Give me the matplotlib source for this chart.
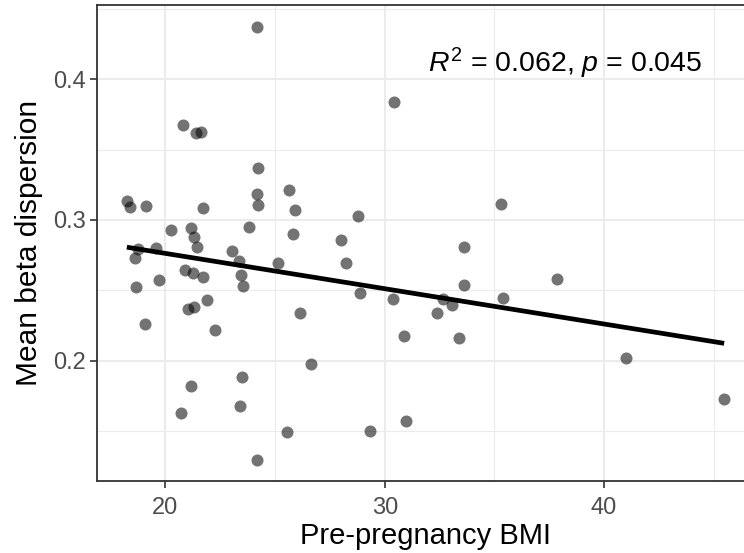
import numpy as np
import matplotlib
matplotlib.use("Agg")
import matplotlib.pyplot as plt
from matplotlib.ticker import FixedLocator

plt.rcParams['font.family'] = ['Liberation Sans', 'DejaVu Sans']
plt.rcParams['mathtext.fontset'] = 'custom'
plt.rcParams['mathtext.rm'] = 'Liberation Sans'
plt.rcParams['mathtext.it'] = 'Liberation Sans:italic'

# pre-pregnancy BMI vs mean beta dispersion
bmi = [24.17, 30.44, 20.82, 21.40, 21.63, 24.21, 18.24, 18.39, 19.09, 21.72,
       24.19, 24.21, 25.65, 25.91, 28.77, 35.29, 20.26, 21.15, 21.32, 23.81,
       25.83, 28.00, 19.59, 21.46, 23.03, 18.74, 18.63, 23.36, 25.15, 28.25,
       33.61, 18.66, 19.72, 20.90, 21.27, 21.71, 23.45, 23.54, 28.89, 30.36,
       21.01, 21.29, 21.88, 19.05, 22.27, 26.13, 30.86, 26.65, 23.51, 21.16,
       23.38, 20.71, 25.56, 29.35, 30.97, 24.17, 33.60, 32.68, 33.05, 32.38,
       35.41, 37.87, 33.38, 40.99, 45.48]
dispersion = [0.4374, 0.3837, 0.3673, 0.3616, 0.3625, 0.3367, 0.3133, 0.3092, 0.3102, 0.3087,
              0.3188, 0.3105, 0.3213, 0.3071, 0.3028, 0.3112, 0.2929, 0.2945, 0.2881, 0.2948,
              0.2903, 0.2861, 0.2802, 0.2805, 0.2782, 0.2792, 0.2729, 0.2709, 0.2694, 0.2692,
              0.2807, 0.2526, 0.2577, 0.2643, 0.2622, 0.2595, 0.2609, 0.2530, 0.2478, 0.2437,
              0.2369, 0.2380, 0.2430, 0.2259, 0.2216, 0.2340, 0.2178, 0.1974, 0.1886, 0.1820,
              0.1680, 0.1628, 0.1495, 0.1499, 0.1574, 0.1296, 0.2540, 0.2440, 0.2394, 0.2340,
              0.2447, 0.2579, 0.2163, 0.2018, 0.1729]

stats_label = r'$R^2$ = 0.062, $p$ = 0.045'

x = np.array(bmi)
y = np.array(dispersion)
slope, intercept = np.polyfit(x, y, 1)
xfit = np.array([x.min(), x.max()])

fig = plt.figure(figsize=(7.44, 5.53), dpi=100)
W, H = 744, 553
ax = fig.add_axes([97 / W, 1 - 481.4 / H, (754 - 97) / W, (481.4 - 5) / H])

ax.scatter(x, y, s=75, color='black', alpha=0.55, linewidths=0, zorder=3)
ax.plot(xfit, intercept + slope * xfit, color='black', lw=3.4, zorder=4,
        solid_capstyle='butt')

ax.text(31.98, 0.4052, stats_label, fontsize=20.5, ha='left', va='baseline')

# ggplot expansion: 5% of data range
xr = x.max() - x.min()
yr = y.max() - y.min()
ax.set_xlim(x.min() - 0.05 * xr, x.max() + 0.05 * xr)
ax.set_ylim(y.min() - 0.05 * yr, y.max() + 0.05 * yr)

ax.xaxis.set_major_locator(FixedLocator([20, 30, 40]))
ax.xaxis.set_minor_locator(FixedLocator([15, 25, 35, 45]))
ax.yaxis.set_major_locator(FixedLocator([0.2, 0.3, 0.4]))
ax.yaxis.set_minor_locator(FixedLocator([0.15, 0.25, 0.35, 0.45]))
ax.set_xticklabels(['20', '30', '40'])
ax.set_yticklabels(['0.2', '0.3', '0.4'])

ax.grid(which='major', color='#EBEBEB', lw=1.5, zorder=0)
ax.grid(which='minor', color='#EBEBEB', lw=0.8, zorder=0)
ax.set_axisbelow(True)

ax.tick_params(which='major', length=5, width=1.2, color='#333333',
               labelsize=17, labelcolor='#4D4D4D')
ax.tick_params(axis='x', which='major', pad=6)
ax.tick_params(axis='y', which='major', pad=3)
ax.tick_params(which='minor', length=0)

for sp in ax.spines.values():
    sp.set_color('#333333')
    sp.set_linewidth(1.3)

ax.set_xlabel('Pre-pregnancy BMI', fontsize=21, labelpad=2.5)
ax.set_ylabel('Mean beta dispersion', fontsize=21.5, labelpad=7)

fig.savefig('out.png', dpi=100)
